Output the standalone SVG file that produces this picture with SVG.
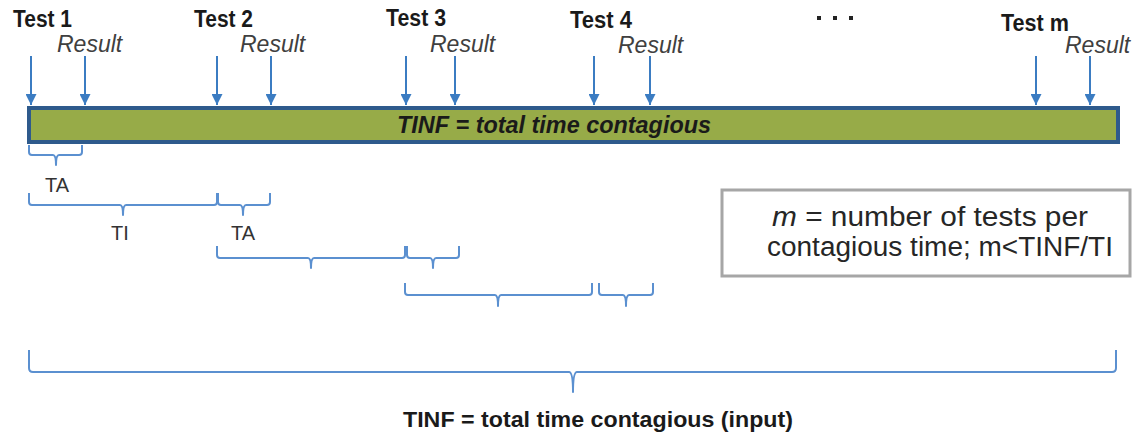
<svg xmlns="http://www.w3.org/2000/svg" width="1139" height="438" viewBox="0 0 1139 438">
<style>
.test{font-family:"Liberation Sans",Arial,sans-serif;font-weight:bold;font-size:23px;fill:#1a1a1a}
.res{font-family:"Liberation Sans",Arial,sans-serif;font-style:italic;font-size:23px;fill:#404040}
.lbl{font-family:"Liberation Sans",Arial,sans-serif;font-size:20px;fill:#333;text-anchor:middle}
.arrow{stroke:#3b7cc2;stroke-width:2;fill:none}
.brace{stroke:#5b90d0;stroke-width:2;fill:none;stroke-linejoin:round}
.boxtxt{font-family:"Liberation Sans",Arial,sans-serif;font-size:27px;fill:#262626}
</style>
<defs>
<marker id="ah" viewBox="0 0 10 10" refX="10" refY="5" markerWidth="5.5" markerHeight="5.5" orient="auto" markerUnits="strokeWidth">
<path d="M0,0 L10,5 L0,10 z" fill="#3b7cc2"/>
</marker>
</defs>
<rect width="1139" height="438" fill="#ffffff"/>
<g id="bar">
<rect x="29" y="108" width="1089" height="34" fill="#97ab48" stroke="#2e5a8c" stroke-width="4"/>
<text x="554" y="133" text-anchor="middle" font-family="Liberation Sans, Arial, sans-serif" font-weight="bold" font-style="italic" font-size="24" fill="#1a1a1a" textLength="314" lengthAdjust="spacingAndGlyphs">TINF = total time contagious</text>
</g>
<g id="labels">
<text class="test" x="13" y="27" textLength="59" lengthAdjust="spacingAndGlyphs">Test 1</text>
<text class="res" x="57" y="52">Result</text>
<text class="test" x="194" y="27" textLength="59" lengthAdjust="spacingAndGlyphs">Test 2</text>
<text class="res" x="240" y="52">Result</text>
<text class="test" x="386" y="26" textLength="60" lengthAdjust="spacingAndGlyphs">Test 3</text>
<text class="res" x="430" y="52">Result</text>
<text class="test" x="570" y="28" textLength="62" lengthAdjust="spacingAndGlyphs">Test 4</text>
<text class="res" x="618" y="53">Result</text>
<text class="test" x="1001" y="31" textLength="68" lengthAdjust="spacingAndGlyphs">Test m</text>
<text class="res" x="1065" y="53">Result</text>
<g id="ellipsis" fill="#222">
<rect x="817" y="16" width="4" height="4"/>
<rect x="833" y="16" width="4" height="4"/>
<rect x="849" y="16" width="4" height="4"/>
</g>
</g>
<g id="connectors">
<line class="arrow" x1="31" y1="56" x2="31" y2="105" marker-end="url(#ah)"/>
<line class="arrow" x1="85" y1="56" x2="85" y2="105" marker-end="url(#ah)"/>
<line class="arrow" x1="217" y1="56" x2="217" y2="105" marker-end="url(#ah)"/>
<line class="arrow" x1="271" y1="56" x2="271" y2="105" marker-end="url(#ah)"/>
<line class="arrow" x1="406" y1="56" x2="406" y2="105" marker-end="url(#ah)"/>
<line class="arrow" x1="455" y1="56" x2="455" y2="105" marker-end="url(#ah)"/>
<line class="arrow" x1="594" y1="56" x2="594" y2="105" marker-end="url(#ah)"/>
<line class="arrow" x1="650" y1="56" x2="650" y2="105" marker-end="url(#ah)"/>
<line class="arrow" x1="1036" y1="56" x2="1036" y2="105" marker-end="url(#ah)"/>
<line class="arrow" x1="1090" y1="56" x2="1090" y2="105" marker-end="url(#ah)"/>
</g>
<g id="braces">
<path class="brace" d="M29,145 L29,152 Q29,155 32,155 L53,155 Q56,155 56,165 Q56,155 59,155 L79,155 Q82,155 82,152 L82,145"/>
<path class="brace" d="M29,193 L29,202 Q29,205 32,205 L120,205 Q123,205 123,215 Q123,205 126,205 L214,205 Q217,205 217,202 L217,193"/>
<path class="brace" d="M218,193 L218,202 Q218,205 221,205 L240,205 Q243,205 243,215 Q243,205 246,205 L267,205 Q270,205 270,202 L270,193"/>
<path class="brace" d="M217,246 L217,255 Q217,258 220,258 L308,258 Q311,258 311,268 Q311,258 314,258 L402,258 Q405,258 405,255 L405,246"/>
<path class="brace" d="M407,246 L407,255 Q407,258 410,258 L430,258 Q433,258 433,268 Q433,258 436,258 L456,258 Q459,258 459,255 L459,246"/>
<path class="brace" d="M405,283 L405,292 Q405,295 408,295 L495,295 Q498,295 498,306 Q498,295 501,295 L589,295 Q592,295 592,292 L592,283"/>
<path class="brace" d="M599,283 L599,292 Q599,295 602,295 L623,295 Q626,295 626,306 Q626,295 629,295 L650,295 Q653,295 653,292 L653,283"/>
<path class="brace" stroke-width="1.6" d="M29,350 L29,368 Q29,372 33,372 L569,372 Q573,372 573,392 Q573,372 577,372 L1112,372 Q1116,372 1116,368 L1116,350"/>
</g>
<g id="brace-labels">
<text class="lbl" x="57" y="192">TA</text>
<text class="lbl" x="120" y="240">TI</text>
<text class="lbl" x="243" y="240">TA</text>
</g>
<g id="note">
<rect x="722" y="190" width="408" height="86" fill="#ffffff" stroke="#a6a6a6" stroke-width="3"/>
<text class="boxtxt" x="772" y="226" textLength="316" lengthAdjust="spacingAndGlyphs"><tspan font-style="italic">m</tspan> = number of tests per</text>
<text class="boxtxt" x="767" y="256" textLength="346" lengthAdjust="spacingAndGlyphs">contagious time; m&lt;TINF/TI</text>
</g>
<g id="total">
<text x="598" y="427" text-anchor="middle" font-family="Liberation Sans, Arial, sans-serif" font-weight="bold" font-size="22" fill="#1a1a1a" textLength="390" lengthAdjust="spacingAndGlyphs">TINF = total time contagious (input)</text>
</g>
</svg>
